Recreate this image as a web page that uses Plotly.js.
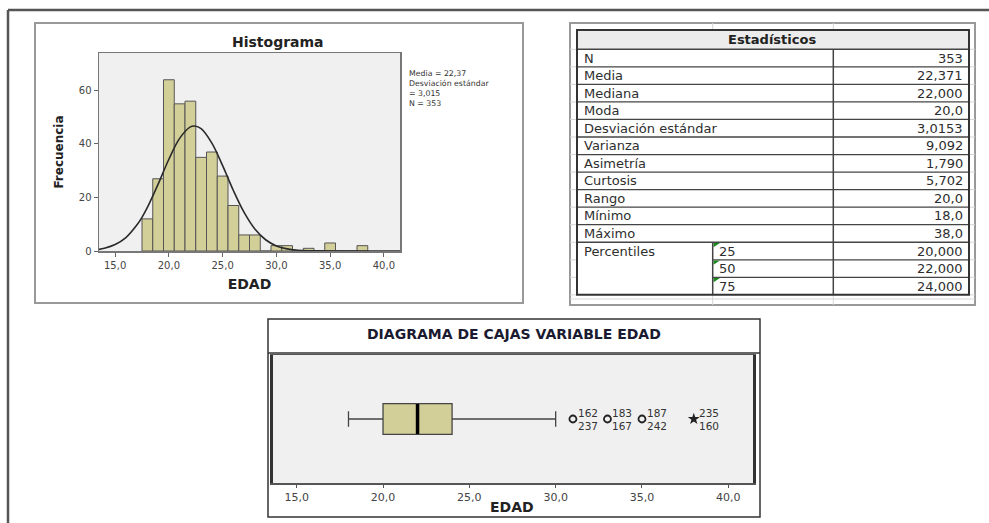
<!DOCTYPE html>
<html>
<head>
<meta charset="utf-8">
<script src="https://cdn.plot.ly/plotly-3.0.1.min.js"></script>
<style>html,body{margin:0;padding:0;background:#fff;}#chart{width:989px;height:523px;}</style>
</head>
<body>
<div id="chart"></div>
<script>
// ---------------- DATA ----------------
// Histogram of EDAD (bin centres, width 1)
const histBins   = [18,19,20,21,22,23,24,25,26,27,28,29,30,31,32,33,34,35,36,37,38];
const histCounts = [12,27,64,55,56,35,37,28,17, 6, 6, 0, 2, 2, 0, 1, 0, 3, 0, 0, 2];
// Normal curve
const curveX = [13.5,14,15,16,17,17.5,18,19,20,21,22,22.4,23,24,25,26,27,28,29,30,31,32,33,34,36,41.5];
const curveY = [0.6,1.0,2.4,5.0,9.6,12.6,16.3,25.0,34.3,42.1,46.4,46.7,45.7,40.3,31.9,22.6,14.4,8.2,4.2,1.9,0.8,0.3,0.1,0.03,0,0];
const xTickVals  = [15,20,25,30,35,40];
const xTickText  = ['15,0','20,0','25,0','30,0','35,0','40,0'];
const yTickVals  = [0,20,40,60];
const legendLines = ['Media = 22,37','Desviación estándar','= 3,015','N = 353'];

// Statistics table
const statLabels = ['N','Media','Mediana','Moda','Desviación estándar','Varianza','Asimetría','Curtosis','Rango','Mínimo','Máximo'];
const statValues = ['353','22,371','22,000','20,0','3,0153','9,092','1,790','5,702','20,0','18,0','38,0'];
const pctLabels  = ['25','50','75'];
const pctValues  = ['20,000','22,000','24,000'];

// Box plot
const boxMin = [18], boxQ1 = [20], boxMedian = [22], boxQ3 = [24], boxMaxW = [30];
const outlierX      = [31,33,35];
const extremeX      = [38];
const labelX        = [31,33,35,38];
const labelsAbove   = ['162','183','187','235'];
const labelsBelow   = ['237','167','242','160'];

// ---------------- HELPERS ----------------
const W = 989, H = 523;
const X = p => p / W;
const Y = p => 1 - p / H;
const FONT = 'DejaVu Sans, Arial, sans-serif';
const KHAKI = '#d3cf98';

const shapes = [];
const annotations = [];
function line(x0,y0,x1,y1,color,width){shapes.push({type:'line',xref:'paper',yref:'paper',x0:X(x0),y0:Y(y0),x1:X(x1),y1:Y(y1),line:{color:color,width:width}});}
function rect(x0,y0,x1,y1,color,width,fill){shapes.push({type:'rect',xref:'paper',yref:'paper',x0:X(x0),y0:Y(y0),x1:X(x1),y1:Y(y1),line:{color:color,width:width},fillcolor:fill||'rgba(0,0,0,0)'});}
function text(t,x,y,size,anchor,color,bold,yanchor){annotations.push({text:bold?'<b>'+t+'</b>':t,xref:'paper',yref:'paper',x:X(x),y:Y(y),xanchor:anchor||'center',yanchor:yanchor||'middle',align:'left',showarrow:false,borderpad:0,font:{family:FONT,size:size,color:color||'#333'}});}

// Outer frame
line(8,10,989,10,'#555',2.5);
line(8,10,8,523,'#555',2.5);

// Histogram panel
rect(35,23,523,303,'#999',2);
text('Histograma',278,42,14,'center','#222',true);
text(legendLines.join('<br>'),408,68,7.8,'left','#333',false,'top');

// Table panel
rect(570,23,975,305,'#999',2);
const gridC = '#d6d6d6';
const rowTop = 49.3, rowH = 17.54;
const nRows = statLabels.length + pctLabels.length;
const tBottom = rowTop + nRows*rowH;
[712.7,833.3].forEach(x=>{line(x,23,x,30,gridC,1);line(x,tBottom,x,305,gridC,1);});
for(let i=0;i<=nRows;i++){const y=rowTop+i*rowH;line(570,y,577,y,gridC,1);line(969,y,975,y,gridC,1);}
line(570,299,975,299,gridC,1);
rect(577,30,969,rowTop,'rgba(0,0,0,0)',0,'#ececec');
text('Estadísticos',772,39.8,13,'center','#222',true);
statLabels.forEach((t,i)=>{
  const yc=rowTop+(i+0.5)*rowH;
  text(t,583,yc,13,'left','#2e2e2e');
  text(statValues[i],964,yc,13,'right','#2e2e2e');
  if(i>0) line(577,rowTop+i*rowH,969,rowTop+i*rowH,'#444',1.3);
});
const pStart = statLabels.length;
line(577,rowTop+pStart*rowH,969,rowTop+pStart*rowH,'#444',1.3);
text('Percentiles',583,rowTop+(pStart+0.5)*rowH,13,'left','#2e2e2e');
pctLabels.forEach((t,i)=>{
  const yTop=rowTop+(pStart+i)*rowH, yc=yTop+rowH/2;
  text(t,718,yc,13,'left','#2e2e2e');
  text(pctValues[i],964,yc,13,'right','#2e2e2e');
  if(i>0) line(712.7,yTop,969,yTop,'#444',1.3);
  shapes.push({type:'path',xref:'paper',yref:'paper',path:`M ${X(713.5)} ${Y(yTop+0.8)} L ${X(720)} ${Y(yTop+0.8)} L ${X(713.5)} ${Y(yTop+5)} Z`,fillcolor:'#1c8a1c',line:{width:0}});
});
line(577,rowTop,969,rowTop,'#444',1.5);
line(833.3,rowTop,833.3,tBottom,'#444',1.5);
line(712.7,rowTop+pStart*rowH,712.7,tBottom,'#444',1.5);
rect(577,30,969,tBottom,'#333',2);

// Box plot panel
rect(268,319,760,517,'#333',1.5);
line(268,353,760,353,'#333',1.5);
text('DIAGRAMA DE CAJAS VARIABLE EDAD',514,334,14,'center','#1a1a30',true);
text('EDAD',512,506.5,14,'center','#222',true);

// Outlier case labels, anchored to the data positions on the box-plot axes
labelX.forEach((v,i)=>{
  [[labelsAbove[i],6.5],[labelsBelow[i],-6.5]].forEach(([t,dy])=>{
    annotations.push({text:t,xref:'x2',yref:'y2',x:v,y:0,xanchor:'left',yanchor:'middle',
      xshift:4,yshift:dy,showarrow:false,borderpad:0,font:{family:FONT,size:10.5,color:'#333'}});
  });
});

// ---------------- TRACES ----------------
const traces = [
  {type:'bar',x:histBins,y:histCounts,width:1,xaxis:'x',yaxis:'y',
   marker:{color:KHAKI,line:{color:'#555',width:1}},hoverinfo:'x+y',showlegend:false},
  {type:'scatter',mode:'lines',x:curveX,y:curveY,xaxis:'x',yaxis:'y',
   line:{color:'#2a2a2a',width:1.6,shape:'spline',smoothing:1},showlegend:false,hoverinfo:'skip'},
  {type:'box',orientation:'h',y:[0],q1:boxQ1,median:boxMedian,q3:boxQ3,lowerfence:boxMin,upperfence:boxMaxW,
   xaxis:'x2',yaxis:'y2',width:0.48,whiskerwidth:0.5,fillcolor:KHAKI,line:{color:'#444',width:1.3},
   boxpoints:false,showlegend:false},
  {type:'scatter',mode:'lines',x:[boxMedian[0],boxMedian[0]],y:[-0.235,0.235],xaxis:'x2',yaxis:'y2',
   line:{color:'#000',width:3.5},showlegend:false,hoverinfo:'skip'},
  {type:'scatter',mode:'markers',x:outlierX,y:outlierX.map(()=>0),xaxis:'x2',yaxis:'y2',
   marker:{symbol:'circle-open',size:7,color:'#222',line:{width:1.8,color:'#222'}},showlegend:false},
  {type:'scatter',mode:'markers',x:extremeX,y:extremeX.map(()=>0),xaxis:'x2',yaxis:'y2',
   marker:{symbol:'star',size:9,color:'#222'},showlegend:false}
];

const layout = {
  width:W,height:H,margin:{l:0,r:0,t:0,b:0},
  paper_bgcolor:'#fff',plot_bgcolor:'#f0f0f0',
  showlegend:false,font:{family:FONT,color:'#333'},
  xaxis:{domain:[X(99),X(400)],range:[13.5,41.5],tickvals:xTickVals,ticktext:xTickText,
    ticks:'outside',ticklen:4,tickcolor:'#666',showline:true,mirror:true,linecolor:'#777',linewidth:1.5,
    showgrid:false,zeroline:false,tickfont:{family:FONT,size:10,color:'#444'},
    title:{text:'<b>EDAD</b>',font:{family:FONT,size:14,color:'#222'},standoff:9},anchor:'y'},
  yaxis:{domain:[Y(251),Y(53)],range:[0,74],tickvals:yTickVals,
    ticks:'outside',ticklen:4,tickcolor:'#666',showline:true,mirror:true,linecolor:'#777',linewidth:1.5,
    showgrid:false,zeroline:false,tickfont:{family:FONT,size:10,color:'#444'},
    title:{text:'<b>Frecuencia</b>',font:{family:FONT,size:12,color:'#222'},standoff:12},anchor:'x'},
  xaxis2:{domain:[X(272.7),X(753)],range:[13.61,41.43],tickvals:xTickVals,ticktext:xTickText,
    ticks:'outside',ticklen:3,tickcolor:'#555',showline:true,mirror:true,linecolor:'#555',linewidth:1.5,
    showgrid:false,zeroline:false,tickfont:{family:FONT,size:11,color:'#444'},anchor:'y2'},
  yaxis2:{domain:[Y(483),Y(355)],range:[-1,1],showticklabels:false,ticks:'',showline:true,mirror:true,
    linecolor:'#333',linewidth:2.5,showgrid:false,zeroline:false,anchor:'x2'},
  shapes:shapes,annotations:annotations
};

Plotly.newPlot('chart',traces,layout,{staticPlot:true,displayModeBar:false});
</script>
</body>
</html>
